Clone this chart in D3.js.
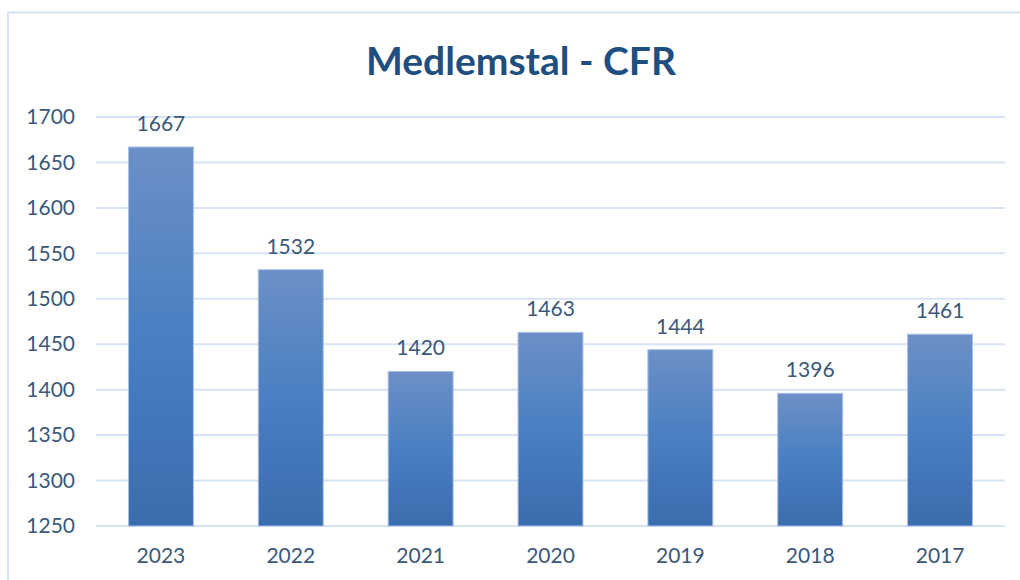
<!DOCTYPE html>
<html>
<head>
<meta charset="utf-8">
<script src="https://cdn.jsdelivr.net/npm/d3@7"></script>
<style>
  body { margin: 0; background: #fff; }
  text { font-family: Lato, "Noto Sans", sans-serif; }
</style>
</head>
<body>
<svg id="chart" width="1020" height="580"></svg>
<script>
// chart data
var years = ["2023", "2022", "2021", "2020", "2019", "2018", "2017"];
var members = [1667, 1532, 1420, 1463, 1444, 1396, 1461];
var yTicks = [1250, 1300, 1350, 1400, 1450, 1500, 1550, 1600, 1650, 1700];

var margin = {top: 117, right: 15, bottom: 54, left: 96},
    width = 1020 - margin.left - margin.right,
    height = 580 - margin.top - margin.bottom;

var svg = d3.select("#chart");

// outer frame (left + top edges only visible)
svg.append("path")
    .attr("d", "M8,580 L8,12.5 L1020,12.5")
    .attr("fill", "none")
    .attr("stroke", "#d4e1f3")
    .attr("stroke-width", 2);

var defs = svg.append("defs");
var grad = defs.append("linearGradient")
    .attr("id", "barGrad")
    .attr("x1", 0).attr("y1", 0).attr("x2", 0).attr("y2", 1);
grad.append("stop").attr("offset", "0%").attr("stop-color", "#6c90c7");
grad.append("stop").attr("offset", "50%").attr("stop-color", "#4a7fc2");
grad.append("stop").attr("offset", "100%").attr("stop-color", "#3b6cae");

svg.append("text")
    .attr("x", 521)
    .attr("y", 75)
    .attr("text-anchor", "middle")
    .attr("font-size", 39)
    .attr("font-weight", "bold")
    .attr("fill", "#1f4e80")
    .text("Medlemstal - CFR");

var g = svg.append("g")
    .attr("transform", "translate(" + margin.left + "," + margin.top + ")");

var x = d3.scaleBand()
    .domain(years)
    .range([0, width])
    .paddingInner(0.5)
    .paddingOuter(0.25);

var y = d3.scaleLinear()
    .domain([1250, 1700])
    .range([409, 0]);

// gridlines
g.selectAll(".grid")
    .data(yTicks)
  .enter().append("line")
    .attr("class", "grid")
    .attr("x1", 0)
    .attr("x2", width)
    .attr("y1", function(d) { return y(d); })
    .attr("y2", function(d) { return y(d); })
    .attr("stroke", "#d6e3f4")
    .attr("stroke-width", 2);

var yAxis = d3.axisLeft(y)
    .tickValues(yTicks)
    .tickFormat(d3.format("d"))
    .tickSize(0)
    .tickPadding(21);

g.append("g")
    .attr("class", "y axis")
    .call(yAxis)
    .call(function(s) { s.select(".domain").remove(); })
    .selectAll("text")
    .attr("font-size", 21)
    .attr("font-family", "Lato, 'Noto Sans', sans-serif")
    .attr("fill", "#3c5878");

var xAxis = d3.axisBottom(x)
    .tickSize(0)
    .tickPadding(22);

g.append("g")
    .attr("class", "x axis")
    .attr("transform", "translate(0," + y(1250) + ")")
    .call(xAxis)
    .call(function(s) { s.select(".domain").remove(); })
    .selectAll("text")
    .attr("font-size", 21)
    .attr("font-family", "Lato, 'Noto Sans', sans-serif")
    .attr("fill", "#3c5878");

var data = years.map(function(d, i) { return {year: d, value: members[i]}; });

g.selectAll(".bar")
    .data(data)
  .enter().append("rect")
    .attr("class", "bar")
    .attr("x", function(d) { return x(d.year); })
    .attr("width", x.bandwidth())
    .attr("y", function(d) { return y(d.value); })
    .attr("height", function(d) { return y(1250) - y(d.value); })
    .attr("fill", "url(#barGrad)")
    .attr("stroke", "#a9c0e2")
    .attr("stroke-width", 1);

g.selectAll(".label")
    .data(data)
  .enter().append("text")
    .attr("class", "label")
    .attr("x", function(d) { return x(d.year) + x.bandwidth() / 2; })
    .attr("y", function(d) { return y(d.value) - 16; })
    .attr("text-anchor", "middle")
    .attr("font-size", 21)
    .attr("fill", "#3c5878")
    .text(function(d) { return d.value; });
</script>
</body>
</html>
